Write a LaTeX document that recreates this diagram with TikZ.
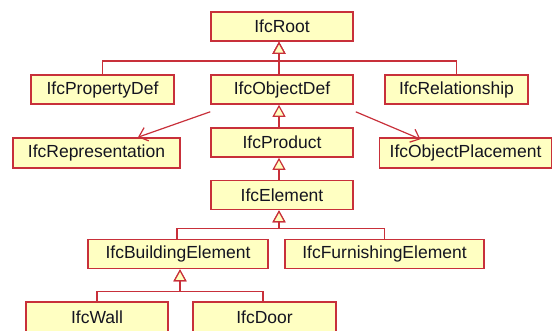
\documentclass[tikz,border=0pt]{standalone}
\usepackage{fontspec}
\setmainfont{Liberation Sans}
\usetikzlibrary{arrows.meta}
\definecolor{boxfill}{HTML}{FFFFC2}
\definecolor{boxline}{HTML}{C8303A}
\definecolor{txt}{HTML}{141420}
\tikzset{
  cls/.style={draw=boxline, line width=1.6pt, fill=boxfill, text=txt, minimum height=29pt,
    inner sep=0pt, font=\fontsize{17.5}{20}\selectfont},
  gen/.style={draw=boxline, line width=1.4pt, -{Triangle[length=12pt,width=13pt,fill=boxfill,line width=1.2pt]}},
  assoc/.style={draw=boxline, line width=1.2pt, -{Straight Barb[length=8pt,width=14pt,line width=1.2pt]}},
}
\begin{document}
\begin{tikzpicture}[x=1pt,y=-1pt]
\useasboundingbox (0,0) rectangle (553,330);
\clip (0,0) rectangle (553,330);
\node[cls, minimum width=142pt] (root) at (282,26.5) {IfcRoot};
\node[cls, minimum width=143pt] (pd) at (102.5,89.5) {IfcPropertyDef};
\node[cls, minimum width=142pt] (od) at (282,89.5) {IfcObjectDef};
\node[cls, minimum width=143pt] (rel) at (456.5,89.5) {IfcRelationship};
\node[cls, minimum width=167pt, minimum height=30pt] (rep) at (96.5,153) {IfcRepresentation};
\node[cls, minimum width=142pt] (prod) at (282,142.5) {IfcProduct};
\node[cls, minimum width=172pt, minimum height=30pt] (opl) at (465.5,153) {IfcObjectPlacement};
\node[cls, minimum width=142pt] (elem) at (282,195) {IfcElement};
\node[cls, minimum width=180pt] (be) at (178,254) {IfcBuildingElement};
\node[cls, minimum width=199pt] (fe) at (384.5,254) {IfcFurnishingElement};
\node[cls, minimum width=142pt, minimum height=30pt] (wall) at (97,317) {IfcWall};
\node[cls, minimum width=143pt, minimum height=30pt] (door) at (264.5,317) {IfcDoor};
% generalizations
\draw[gen] ([xshift=-3pt]od.north) -- ([xshift=-3pt]root.south);
\draw[gen] (pd.north) |- ([xshift=-3pt,yshift=-19pt]root.south) -- ([xshift=-3pt]root.south);
\draw[gen] (rel.north) |- ([xshift=-3pt,yshift=-19pt]root.south) -- ([xshift=-3pt]root.south);
\draw[gen] ([xshift=-3pt]prod.north) -- ([xshift=-3pt]od.south);
\draw[gen] ([xshift=-3pt]elem.north) -- ([xshift=-3pt]prod.south);
\draw[gen] ([xshift=-1pt]be.north) |- ([xshift=-3pt,yshift=-18pt]elem.south) -- ([xshift=-3pt]elem.south);
\draw[gen] (fe.north) |- ([xshift=-3pt,yshift=-18pt]elem.south) -- ([xshift=-3pt]elem.south);
\draw[gen] (wall.north) |- ([xshift=2pt,yshift=-22pt]be.south) -- ([xshift=2pt]be.south);
\draw[gen] ([xshift=-1.5pt]door.north) |- ([xshift=2pt,yshift=-22pt]be.south) -- ([xshift=2pt]be.south);
% associations
\draw[assoc] ([yshift=-7pt]od.south west) -- ([xshift=41.5pt]rep.north);
\draw[assoc] ([xshift=2pt,yshift=-7pt]od.south east) -- ([xshift=-45pt,yshift=-2pt]opl.north);
\end{tikzpicture}
\end{document}
